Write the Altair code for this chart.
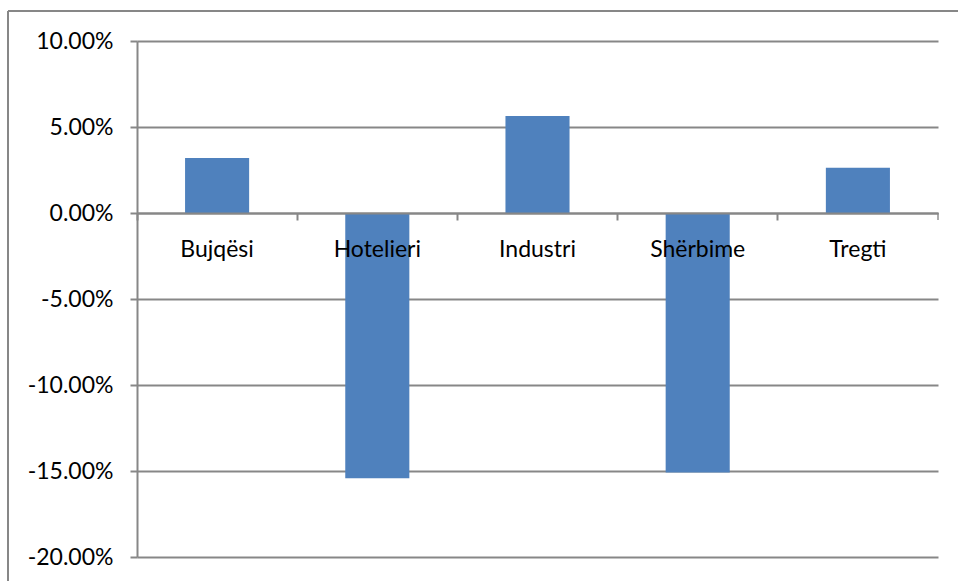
import altair as alt
import pandas as pd

categories = ["Bujqësi", "Hotelieri", "Industri", "Shërbime", "Tregti"]
values = [0.032, -0.1542, 0.0564, -0.1508, 0.0263]
y_ticks = [-0.20, -0.15, -0.10, -0.05, 0.0, 0.05, 0.10]

df = pd.DataFrame({"cat": categories, "val": values})

W, H = 801, 516
FONT = "Lato"
GRID = "#878787"

x_enc = alt.X(
    "cat:N",
    sort=categories,
    scale=alt.Scale(paddingInner=0.6, paddingOuter=0.3),
    axis=alt.Axis(
        title=None,
        orient="bottom",
        offset=-344,
        bandPosition=-0.75,
        zindex=1,
        labelAngle=0,
        labelFontSize=23,
        labelFont=FONT,
        labelColor="#000000",
        labelPadding=18,
        tickSize=7,
        tickColor=GRID,
        tickWidth=2,
        domainColor=GRID,
        domainWidth=2,
        grid=False,
    ),
)

y_enc = alt.Y(
    "val:Q",
    scale=alt.Scale(domain=[-0.2, 0.1], nice=False, zero=False),
    axis=alt.Axis(
        title=None,
        values=y_ticks,
        labelExpr="replace(format(datum.value, '.2%'), '\u2212', '-')",
        labelFontSize=23,
        labelFont=FONT,
        labelColor="#000000",
        labelPadding=17,
        tickSize=7,
        tickColor=GRID,
        tickWidth=2,
        domainColor=GRID,
        domainWidth=2,
        gridColor=GRID,
        gridWidth=2,
        gridOpacity=1,
    ),
)

bars = alt.Chart(df).mark_bar(color="#4F81BD").encode(x=x_enc, y=y_enc)

# last boundary tick at the right end of the category axis
end_tick = alt.Chart(pd.DataFrame({"v": [0.0]})).mark_tick(
    orient="vertical", color=GRID, size=7, thickness=2, yOffset=3.5
).encode(x=alt.value(W), y=alt.Y("v:Q"))

# outer frame (decoration)
frame_left = alt.Chart(pd.DataFrame({"a": [0]})).mark_rule(color=GRID, strokeWidth=2).encode(
    x=alt.value(-129), y=alt.value(-30), y2=alt.value(H + 40)
)
frame_top = alt.Chart(pd.DataFrame({"a": [0]})).mark_rule(color=GRID, strokeWidth=2).encode(
    x=alt.value(-129), x2=alt.value(W + 40), y=alt.value(-30)
)

chart = (
    alt.layer(bars, end_tick, frame_left, frame_top)
    .properties(
        width=W,
        height=H,
        autosize=alt.AutoSizeParams(type="none"),
        padding={"left": 137, "top": 41, "right": 20, "bottom": 24},
        background="white",
    )
    .configure_view(stroke=None)
)

chart.save("out.html", embed_options={"renderer": "svg", "actions": False})
